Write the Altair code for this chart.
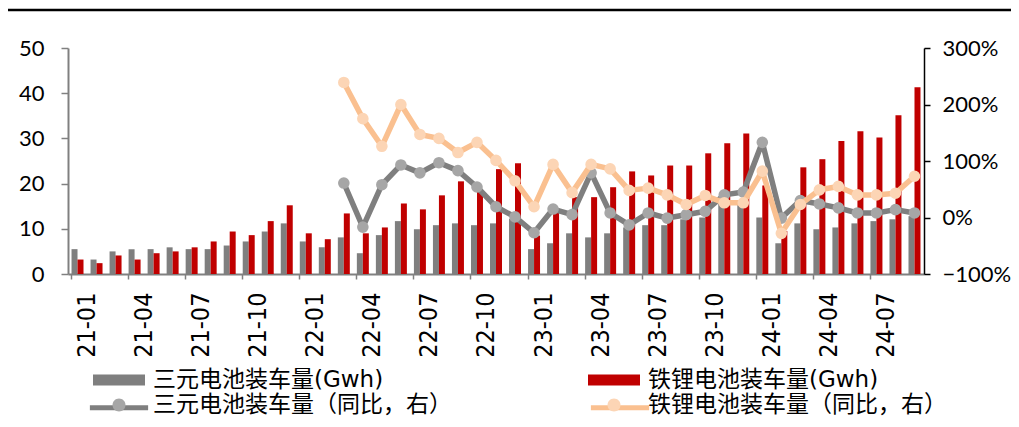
import altair as alt
import pandas as pd

months = ["21-01", "21-02", "21-03", "21-04", "21-05", "21-06", "21-07", "21-08", "21-09",
          "21-10", "21-11", "21-12", "22-01", "22-02", "22-03", "22-04", "22-05", "22-06",
          "22-07", "22-08", "22-09", "22-10", "22-11", "22-12", "23-01", "23-02", "23-03",
          "23-04", "23-05", "23-06", "23-07", "23-08", "23-09", "23-10", "23-11", "23-12",
          "24-01", "24-02", "24-03", "24-04", "24-05", "24-06", "24-07", "24-08", "24-09"]
tick_labels = months[::3]

ternary_gwh = [5.5, 3.2, 5.0, 5.5, 5.5, 5.9, 5.5, 5.5, 6.3, 7.2, 9.4, 11.2, 7.2, 5.9, 8.1,
               4.6, 8.6, 11.7, 9.9, 10.8, 11.2, 10.8, 11.2, 12.2, 5.5, 6.8, 9.0, 8.1, 9.0,
               10.3, 10.8, 10.8, 12.1, 12.5, 15.5, 16.0, 12.5, 6.8, 11.2, 9.9, 10.3, 11.2,
               11.7, 12.1, 12.8]
lfp_gwh = [3.2, 2.4, 4.1, 3.2, 4.6, 5.0, 5.9, 7.2, 9.4, 8.6, 11.7, 15.2, 9.0, 7.7, 13.4,
           9.0, 10.3, 15.6, 14.3, 17.4, 20.5, 18.6, 23.2, 24.5, 8.5, 14.0, 17.0, 17.0, 19.2,
           22.7, 21.8, 24.0, 24.0, 26.7, 28.9, 31.1, 19.6, 9.5, 23.6, 25.4, 29.4, 31.6,
           30.2, 35.1, 41.3]
yoy_months = months[14:]
ternary_yoy = [61, -17, 58, 93, 79, 97, 83, 54, 19, 1, -27, 15, 5, 79, 8, -13, 8, -1, 5,
               11, 40, 45, 133, -1, 30, 24, 17, 8, 8, 14, 8]
lfp_yoy = [239, 175, 126, 200, 147, 140, 115, 133, 101, 65, 19, 94, 44, 94, 86, 48, 52, 40,
           23, 39, 26, 26, 82, -28, 23, 49, 55, 40, 40, 43, 73]

S_TB = "三元电池装车量(Gwh)"
S_LB = "铁锂电池装车量(Gwh)"
S_TL = "三元电池装车量（同比，右）"
S_LL = "铁锂电池装车量（同比，右）"

bar_df = pd.DataFrame({
    "month": months * 2,
    "series": [S_TB] * len(months) + [S_LB] * len(months),
    "value": ternary_gwh + lfp_gwh,
})
line_df = pd.DataFrame({
    "month": yoy_months * 2,
    "series": [S_TL] * len(yoy_months) + [S_LL] * len(yoy_months),
    "yoy": [v / 100 for v in ternary_yoy] + [v / 100 for v in lfp_yoy],
})

NUM_FONT = "Lato"
X_FONT = "Liberation Sans Narrow, DejaVu Sans Condensed, DejaVu Sans"
LEG_FONT = "DejaVu Sans, Noto Sans CJK SC"
LEG_SIZE = 23

x_scale = alt.Scale(type="band", domain=months, paddingInner=0.37, paddingOuter=0.185)
x_axis = alt.Axis(values=tick_labels, bandPosition=0, labelOffset=9.5, labelAngle=-90,
                  labelAlign="right", labelBaseline="middle", labelPadding=13,
                  labelFont=X_FONT, labelFontSize=25, labelColor="#000000",
                  tickSize=5, tickColor="#808080", tickWidth=1.5,
                  domainColor="#808080", domainWidth=2, grid=False, title=None)

bars = alt.Chart(bar_df).mark_bar().encode(
    x=alt.X("month:N", scale=x_scale, axis=x_axis),
    xOffset=alt.XOffset("series:N", scale=alt.Scale(domain=[S_TB, S_LB], paddingInner=0, paddingOuter=0)),
    y=alt.Y("value:Q", scale=alt.Scale(domain=[0, 50]),
            axis=alt.Axis(values=[0, 10, 20, 30, 40, 50], orient="left", tickSize=7,
                          tickColor="#808080", tickWidth=1.5, domainColor="#808080",
                          domainWidth=2, labelFont=NUM_FONT, labelFontSize=22,
                          labelColor="#000000", labelPadding=17, grid=False, title=None)),
    fill=alt.Fill("series:N", scale=alt.Scale(domain=[S_TB, S_LB], range=["#7F7F7F", "#C00000"]),
                  legend=alt.Legend(orient="none", legendX=25, legendY=306, direction="horizontal",
                                    title=None, symbolType="M-1,-0.21H1V0.21H-1Z", symbolSize=2704,
                                    symbolStrokeWidth=0, labelFont=LEG_FONT, labelFontSize=LEG_SIZE,
                                    labelLimit=500, labelColor="#000000", labelOffset=8,
                                    columnPadding=204)),
)

y_right = alt.Y("yoy:Q", scale=alt.Scale(domain=[-1, 3]),
                axis=alt.Axis(orient="right", values=[-1, 0, 1, 2, 3], format=".0%",
                              tickSize=6, tickColor="#000000", tickWidth=1.5,
                              domainColor="#000000", domainWidth=1.5, labelFont=NUM_FONT,
                              labelFontSize=22, labelColor="#000000", labelPadding=12,
                              grid=False, title=None))
x_line = alt.X("month:N", scale=x_scale, axis=x_axis)

# line part of the row-2 legend symbols (labels come from the marker legend below)
stroke_enc = alt.Stroke("series:N", scale=alt.Scale(domain=[S_TL, S_LL], range=["#7F7F7F", "#FAC090"]),
                        legend=alt.Legend(orient="none", legendX=22.5, legendY=331, direction="horizontal",
                                          title=None, symbolType="M-1.12,0H1.12", symbolSize=2704,
                                          symbolStrokeWidth=5, labelFont=LEG_FONT, labelFontSize=LEG_SIZE,
                                          labelExpr="''", labelOffset=8,
                                          columnPadding=422, zindex=1))
fill_enc = alt.Fill("series:N", scale=alt.Scale(domain=[S_TL, S_LL], range=["#A6A6A6", "#FCD5B5"]),
                    legend=alt.Legend(orient="none", legendX=25, legendY=331, direction="horizontal",
                                      title=None,
                                      symbolType="M0.25,0A0.25,0.25,0,1,1,-0.25,0A0.25,0.25,0,1,1,0.25,0Z",
                                      symbolSize=2704, symbolStrokeWidth=0, labelFont=LEG_FONT,
                                      labelFontSize=LEG_SIZE, labelLimit=500, labelColor="#000000",
                                      labelOffset=8, columnPadding=136, zindex=2))

def line_layer(name):
    return alt.Chart(line_df).transform_filter(alt.datum.series == name).mark_line(
        strokeWidth=5.5, strokeJoin="round", strokeCap="round").encode(x=x_line, y=y_right, stroke=stroke_enc)

def point_layer(name):
    return alt.Chart(line_df).transform_filter(alt.datum.series == name).mark_circle(
        size=135, opacity=1).encode(x=x_line, y=y_right, fill=fill_enc)

lines = alt.layer(line_layer(S_TL), point_layer(S_TL), line_layer(S_LL), point_layer(S_LL))

top_rule = alt.Chart(pd.DataFrame({"k": [0]})).mark_rule(color="#000000", strokeWidth=2.5).encode(
    x=alt.value(-60), x2=alt.value(943), y=alt.value(-38))

chart = alt.layer(bars, lines, top_rule).resolve_scale(
    y="independent", fill="independent"
).properties(
    width=856, height=226,
    autosize=alt.AutoSizeParams(type="none"),
    padding={"left": 60, "top": 40, "right": 87, "bottom": 145},
    background="white",
).configure_view(stroke=None)

chart.save("out.html", embed_options={"renderer": "svg", "actions": False})
